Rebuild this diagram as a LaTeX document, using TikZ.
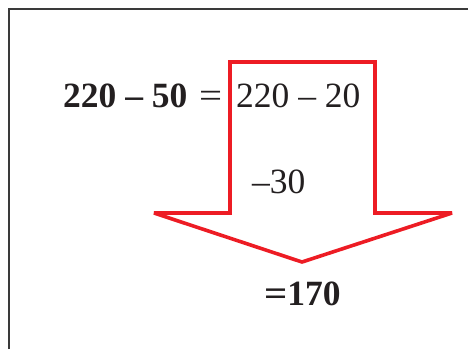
\documentclass[tikz,border=0pt]{standalone}
\usepackage{fontspec}
\setmainfont{Liberation Serif}
\definecolor{arrred}{HTML}{ED1C24}
\definecolor{ink}{HTML}{231F20}
\definecolor{framegray}{HTML}{3A3A3A}
\begin{document}
\begin{tikzpicture}[x=1pt,y=-1pt,
  txt/.style={inner sep=0pt, anchor=base west, text=ink, font=\fontsize{35.5}{40}\selectfont},
  bigarrow/.style={draw=arrred, line width=3.6pt, line join=miter, miter limit=2}]
\useasboundingbox (0,0) rectangle (468,349);
\draw[line width=2pt, framegray] (9,349) -- (9,9) -- (468,9);
\draw[bigarrow] (230,62) -- (375,62) -- (375,213) -- (452,213) -- (302,262) -- (154,213) -- (230,213) -- cycle;
\node[txt] (lhs) at (63,107) {\bfseries 220 – 50};
\node[txt] (eq) at (199,107) {\scalebox{1.15}[1]{=}};
\node[txt] (rhs) at (236,107) {220 – 20};
\node[txt] (sub) at (252,193) {–30};
\node[txt] (res) at (264,305) {\bfseries \scalebox{1.15}[1]{=}170};
\end{tikzpicture}
\end{document}
